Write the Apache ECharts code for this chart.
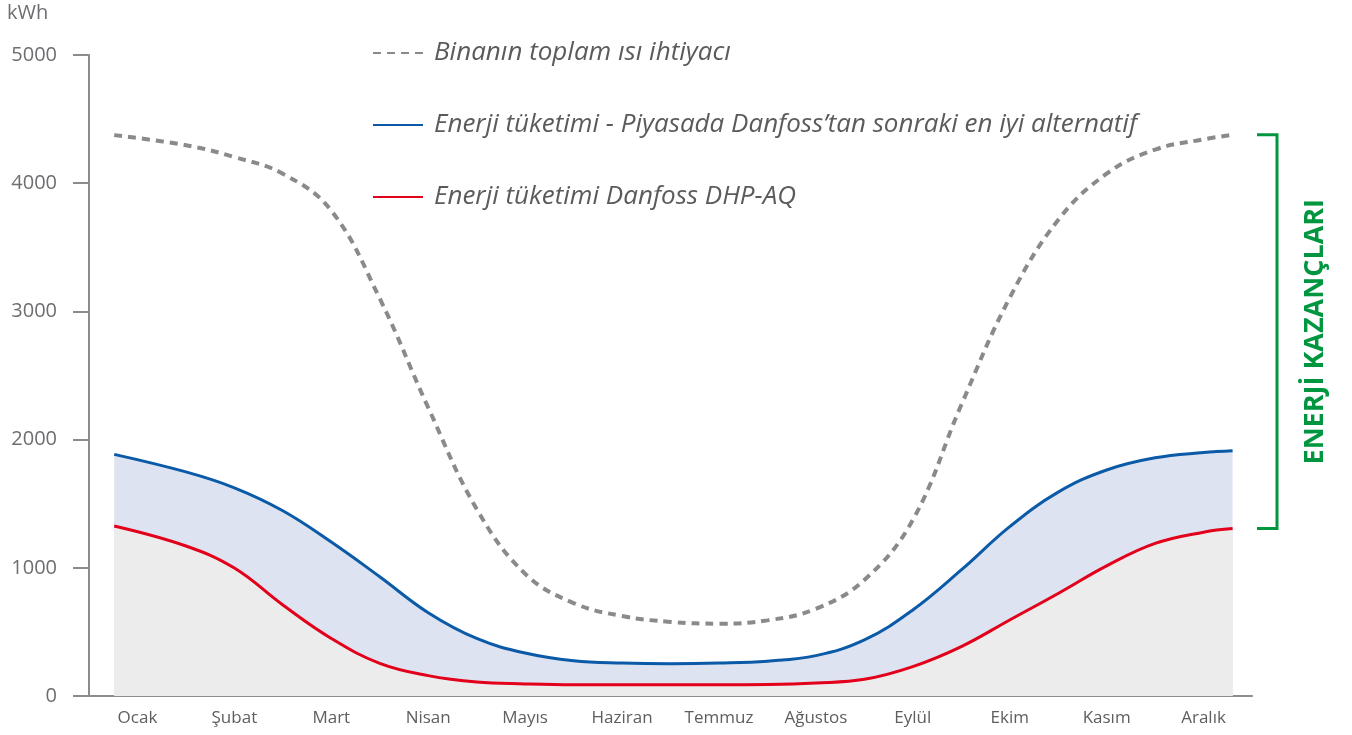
<!DOCTYPE html>
<html>
<head>
<meta charset="utf-8">
<title>Enerji tüketimi</title>
<script src="https://cdn.jsdelivr.net/npm/echarts@6/dist/echarts.min.js"></script>
<style>
  html, body { margin: 0; padding: 0; background: #fff; }
  #chart { width: 1352px; height: 735px; }
</style>
</head>
<body>
<div id="chart"></div>
<script>
// months on the category axis
var months = ['Ocak', 'Şubat', 'Mart', 'Nisan', 'Mayıs', 'Haziran', 'Temmuz', 'Ağustos', 'Eylül', 'Ekim', 'Kasım', 'Aralık']
// sample positions along the year (in month widths, 0 = left edge of Ocak)
var pos = [0.26, 1, 1.5, 2, 2.5, 3, 3.5, 4, 4.5, 5, 5.5, 6, 6.5, 7, 7.5, 8, 8.5, 9, 9.5, 10, 10.5, 11, 11.5, 11.8]
// kWh values
var heatDemand = [4375, 4296, 4204, 4074, 3786, 3100, 2250, 1459, 954, 725, 624, 578, 564, 590, 680, 905, 1373, 2270, 3106, 3713, 4074, 4262, 4342, 4377]
var altConsumption = [1885, 1748, 1624, 1445, 1201, 930, 650, 449, 335, 275, 257, 252, 257, 272, 315, 437, 671, 983, 1321, 1590, 1763, 1858, 1899, 1913]
var dhpConsumption = [1326, 1170, 998, 710, 449, 255, 159, 109, 94, 87, 87, 87, 87, 89, 101, 130, 229, 385, 593, 800, 1015, 1190, 1278, 1306]
var yTicks = [0, 1000, 2000, 3000, 4000, 5000]

var names = ['Binanın toplam ısı ihtiyacı', 'Enerji tüketimi - Piyasada Danfoss’tan sonraki en iyi alternatif', 'Enerji tüketimi Danfoss DHP-AQ']

function pairs(vals) {
  return pos.map(function (p, i) { return [p, vals[i]] })
}

var axisGray = '#8c8c8c'
var font = '"Open Sans", "Noto Sans", sans-serif'

var chart = echarts.init(document.getElementById('chart'))
chart.setOption({
  animation: false,
  grid: { left: 89, right: 100, top: 55, bottom: 39 },
  legend: {
    left: 367,
    top: 31,
    orient: 'vertical',
    itemWidth: 50,
    itemHeight: 14,
    itemGap: 38,
    data: names,
    itemStyle: { opacity: 0 },
    textStyle: { color: '#5b5b5e', fontSize: 26, fontStyle: 'italic', fontFamily: font, lineHeight: 34, padding: [0, 0, 0, 6] }
  },
  xAxis: [
    {
      type: 'category',
      data: months,
      boundaryGap: true,
      axisLine: { lineStyle: { color: axisGray, width: 2 } },
      axisTick: { length: 14, lineStyle: { color: axisGray, width: 2 } },
      axisLabel: { color: '#5e5e60', fontSize: 17, fontFamily: font, margin: 14 }
    },
    {
      type: 'value',
      min: 0,
      max: 12,
      show: false
    }
  ],
  yAxis: {
    type: 'value',
    min: yTicks[0],
    max: yTicks[yTicks.length - 1],
    interval: 1000,
    splitLine: { show: false },
    axisLine: { show: true, lineStyle: { color: axisGray, width: 2 } },
    axisTick: { show: true, length: 16, lineStyle: { color: axisGray, width: 2 } },
    axisLabel: {
      color: '#6d6e71', fontSize: 20, fontFamily: font, margin: 32,
      formatter: function (v) { return String(v) }
    }
  },
  series: [
    {
      name: names[1],
      type: 'line',
      xAxisIndex: 1,
      data: pairs(altConsumption),
      smooth: 0.4,
      symbol: 'none',
      lineStyle: { color: '#0a5aa8', width: 3 },
      itemStyle: { color: '#0a5aa8' },
      areaStyle: { color: '#dde3f1', opacity: 1 },
      z: 2
    },
    {
      name: names[2],
      type: 'line',
      xAxisIndex: 1,
      data: pairs(dhpConsumption),
      smooth: 0.4,
      symbol: 'none',
      lineStyle: { color: '#e2001a', width: 3 },
      itemStyle: { color: '#e2001a' },
      areaStyle: { color: '#ececec', opacity: 1 },
      z: 3
    },
    {
      name: names[0],
      type: 'line',
      xAxisIndex: 1,
      data: pairs(heatDemand),
      smooth: 0.4,
      symbol: 'none',
      lineStyle: { color: '#8a8a8c', width: 4, type: [8, 6] },
      itemStyle: { color: '#8a8a8c' },
      z: 4
    }
  ]
})

// bracket "ENERJİ KAZANÇLARI" from the heat demand end down to the DHP-AQ end
var yTop = chart.convertToPixel({ yAxisIndex: 0 }, heatDemand[heatDemand.length - 1])
var yBot = chart.convertToPixel({ yAxisIndex: 0 }, dhpConsumption[dhpConsumption.length - 1])
var green = '#009640'
var bx = 1277
chart.setOption({
  graphic: [
    {
      type: 'text',
      left: 7,
      top: 3,
      style: { text: 'kWh', fill: '#6d6e71', font: '20px ' + font }
    },
    {
      type: 'polyline',
      shape: { points: [[bx - 20, yTop], [bx, yTop], [bx, yBot], [bx - 20, yBot]] },
      style: { stroke: green, lineWidth: 3, fill: null }
    },
    {
      type: 'text',
      x: 1315,
      y: (yTop + yBot) / 2,
      rotation: Math.PI / 2,
      style: {
        text: 'ENERJİ KAZANÇLARI',
        fill: green,
        font: 'bold 27px ' + font,
        textAlign: 'center',
        textVerticalAlign: 'middle'
      }
    }
  ]
})
</script>
</body>
</html>
